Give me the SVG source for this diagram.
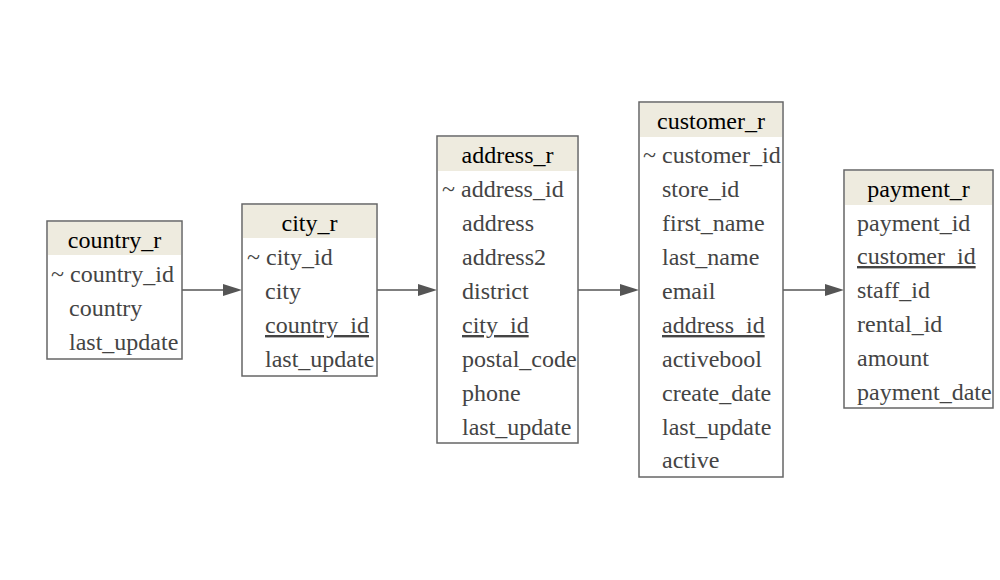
<svg xmlns="http://www.w3.org/2000/svg" width="1000" height="580" viewBox="0 0 1000 580">
<style>
.box{fill:#ffffff;stroke:#666666;stroke-width:1.5}
.hdr{fill:#eeebdf}
.title{font-size:24px;fill:#000000;text-anchor:middle}
.row{font-size:24px;fill:#444444}
.fk{text-decoration:underline}
.edge{stroke:#555555;stroke-width:1.6;fill:none}
.head{fill:#555555}
</style>
<rect width="1000" height="580" fill="#ffffff"/>
<g id="connectors">
<line class="edge" x1="182" y1="290" x2="225" y2="290"/>
<polygon class="head" points="242,290 223,284 223,296"/>
<line class="edge" x1="377" y1="290" x2="420" y2="290"/>
<polygon class="head" points="437,290 418,284 418,296"/>
<line class="edge" x1="578" y1="290" x2="622" y2="290"/>
<polygon class="head" points="639,290 620,284 620,296"/>
<line class="edge" x1="783" y1="290" x2="827" y2="290"/>
<polygon class="head" points="844,290 825,284 825,296"/>
</g>
<g font-family="Liberation Serif, Tinos, Times New Roman, DejaVu Serif, serif">
<g id="country_r">
<rect class="box" x="47" y="221" width="135" height="138"/>
<rect class="hdr" x="48" y="222" width="133" height="33"/>
<text class="title" x="114.5" y="248">country_r</text>
<text class="row" x="51" y="282">~ country_id</text>
<text class="row" x="69" y="316">country</text>
<text class="row" x="69" y="350">last_update</text>
</g>
<g id="city_r">
<rect class="box" x="242" y="204" width="135" height="172"/>
<rect class="hdr" x="243" y="205" width="133" height="33"/>
<text class="title" x="309.5" y="231">city_r</text>
<text class="row" x="247" y="265">~ city_id</text>
<text class="row" x="265" y="299">city</text>
<text class="row fk" x="265" y="333">country_id</text>
<text class="row" x="265" y="367">last_update</text>
</g>
<g id="address_r">
<rect class="box" x="437" y="136" width="141" height="307"/>
<rect class="hdr" x="438" y="137" width="139" height="34"/>
<text class="title" x="507.5" y="163">address_r</text>
<text class="row" x="442" y="197">~ address_id</text>
<text class="row" x="462" y="231">address</text>
<text class="row" x="462" y="265">address2</text>
<text class="row" x="462" y="299">district</text>
<text class="row fk" x="462" y="333">city_id</text>
<text class="row" x="462" y="367">postal_code</text>
<text class="row" x="462" y="401">phone</text>
<text class="row" x="462" y="435">last_update</text>
</g>
<g id="customer_r">
<rect class="box" x="639" y="102" width="144" height="375"/>
<rect class="hdr" x="640" y="103" width="142" height="34"/>
<text class="title" x="711" y="129">customer_r</text>
<text class="row" x="643" y="163">~ customer_id</text>
<text class="row" x="662" y="197">store_id</text>
<text class="row" x="662" y="231">first_name</text>
<text class="row" x="662" y="265">last_name</text>
<text class="row" x="662" y="299">email</text>
<text class="row fk" x="662" y="333">address_id</text>
<text class="row" x="662" y="367">activebool</text>
<text class="row" x="662" y="401">create_date</text>
<text class="row" x="662" y="435">last_update</text>
<text class="row" x="662" y="468">active</text>
</g>
<g id="payment_r">
<rect class="box" x="844" y="170" width="149" height="238"/>
<rect class="hdr" x="845" y="171" width="147" height="34"/>
<text class="title" x="918.5" y="197">payment_r</text>
<text class="row" x="857" y="231">payment_id</text>
<text class="row fk" x="857" y="264">customer_id</text>
<text class="row" x="857" y="298">staff_id</text>
<text class="row" x="857" y="332">rental_id</text>
<text class="row" x="857" y="366">amount</text>
<text class="row" x="857" y="400">payment_date</text>
</g>
</g>
</svg>
